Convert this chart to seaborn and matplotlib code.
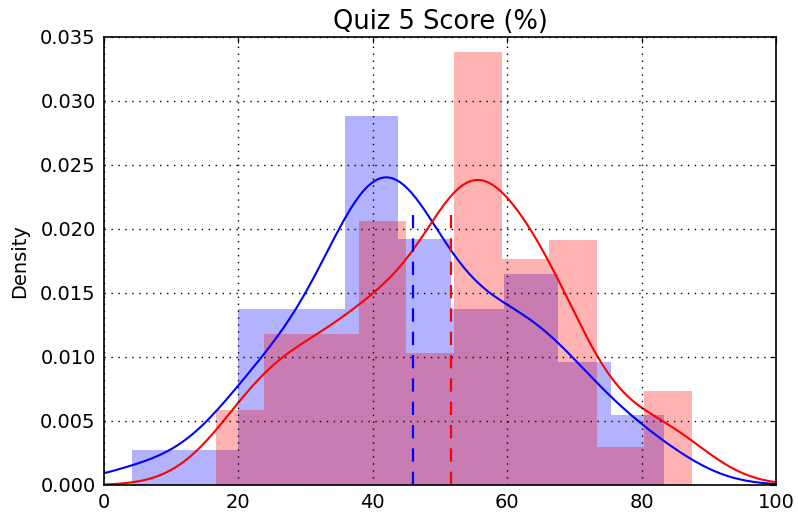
import numpy as np
import pandas as pd
import matplotlib
matplotlib.use("Agg")
import matplotlib.pyplot as plt
import seaborn as sns

# Quiz scores in points out of 24 (score, number of students)
max_points = 24
blue_scores = [1, 2, 4, 5, 6, 8, 9, 10, 11, 12, 13, 15, 16, 17, 18, 19, 20]
blue_counts = [1, 1, 2, 3, 7, 10, 7, 14, 12, 2, 10, 11, 1, 6, 1, 2, 2]
red_scores = [4, 5, 6, 7, 8, 10, 12, 13, 14, 15, 16, 17, 19, 20, 21]
red_counts = [1, 3, 6, 2, 8, 14, 7, 21, 2, 12, 7, 6, 2, 4, 1]

blue_pct = np.repeat(np.array(blue_scores) / max_points * 100, blue_counts)
red_pct = np.repeat(np.array(red_scores) / max_points * 100, red_counts)
df_blue = pd.DataFrame({"score": blue_pct})
df_red = pd.DataFrame({"score": red_pct})

sns.set_style("white")
plt.rcParams.update({
    "font.family": ["DejaVu Sans"],
    "text.color": "black", "axes.labelcolor": "black",
    "xtick.color": "black", "ytick.color": "black",
    "xtick.direction": "in", "ytick.direction": "in",
    "xtick.top": True, "ytick.right": True,
    "xtick.major.size": 4, "ytick.major.size": 4,
    "axes.edgecolor": "black", "axes.linewidth": 1.2,
})

fig = plt.figure(figsize=(7.98, 5.14), dpi=100)
ax = fig.add_axes([104 / 798, 1 - 485 / 514, 672 / 798, 448 / 514])

for d, c in [(df_blue, "#0000ff"), (df_red, "#ff0000")]:
    sns.histplot(data=d, x="score", bins=10, stat="density", ax=ax,
                 color=c, alpha=0.3, linewidth=0, element="bars")
for d, c in [(df_blue, "#0000ff"), (df_red, "#ff0000")]:
    sns.kdeplot(data=d, x="score", ax=ax, color=c, linewidth=1.5, cut=3)
for d, c in [(df_blue, "#0000ff"), (df_red, "#ff0000")]:
    ax.axvline(d["score"].mean(), ymin=0, ymax=0.617, color=c,
               linestyle=(0, (6, 4.5)), linewidth=1.6)

ax.set_xlim(0, 100)
ax.set_ylim(0, 0.035)
ax.set_xticks([0, 20, 40, 60, 80, 100])
yt = np.arange(0, 0.0351, 0.005)
ax.set_yticks(yt)
ax.set_yticklabels([f"{v:.3f}" for v in yt])
ax.tick_params(labelsize=14, pad=6)
ax.grid(True, color="black", linestyle=(0, (1, 4)), linewidth=1.0)
ax.set_axisbelow(False)
ax.set_xlabel("")
ax.set_ylabel("Density", fontsize=14, labelpad=8)
ax.set_title("Quiz 5 Score (%)", fontsize=18.5)
for s in ax.spines.values():
    s.set_visible(True)
    s.set_linewidth(1.2)

fig.savefig("out.png", dpi=100, facecolor="white")
